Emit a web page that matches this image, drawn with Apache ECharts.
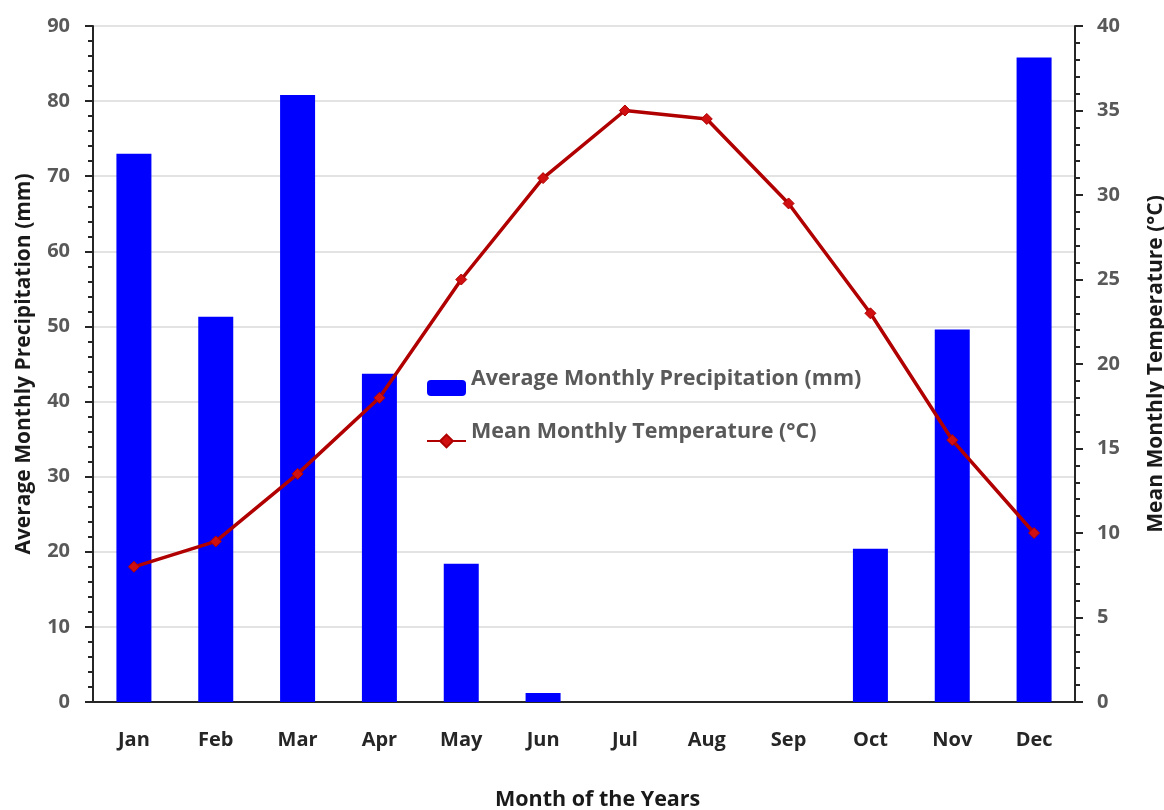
<!DOCTYPE html>
<html><head><meta charset="utf-8">
<script src="https://cdn.jsdelivr.net/npm/echarts@6/dist/echarts.min.js"></script>
<style>html,body{margin:0;padding:0;background:#fff}#c{width:1164px;height:810px}</style>
</head><body><div id="c"></div>
<script>
const months = ['Jan','Feb','Mar','Apr','May','Jun','Jul','Aug','Sep','Oct','Nov','Dec'];
const precipitation = [73, 51.3, 80.8, 43.7, 18.4, 1.2, 0, 0, 0, 20.4, 49.6, 85.8];
const temperature = [8, 9.5, 13.5, 18, 25, 31, 35, 34.5, 29.5, 23, 15.5, 10];
const precipName = 'Average Monthly Precipitation (mm)';
const tempName = 'Mean Monthly Temperature (°C)';
const xTitle = 'Month of the Years';

const FONT = 'Open Sans';
const chart = echarts.init(document.getElementById('c'));
chart.setOption({
  backgroundColor: '#fff',
  animation: false,
  textStyle: { fontFamily: FONT },
  grid: { left: 93, right: 89, top: 26, bottom: 108, containLabel: false, outerBoundsMode: 'none' },
  legend: {
    orient: 'vertical', left: 426, top: 368, itemGap: 25, padding: 0,
    itemWidth: 39, itemHeight: 16,
    formatter: '{a|{name}}',
    textStyle: {
      rich: { a: { fontFamily: FONT, fontSize: 21.5, fontWeight: 'bold', color: '#595959', padding: [0, 0, 18, 0] } }
    },
    data: [precipName, tempName]
  },
  xAxis: {
    type: 'category', data: months,
    axisLine: { lineStyle: { color: '#262626', width: 2 } },
    axisTick: { alignWithLabel: true, length: 6, lineStyle: { color: '#262626', width: 2 } },
    axisLabel: { fontFamily: FONT, fontSize: 20, fontWeight: 'bold', color: '#262626', margin: 28 }
  },
  yAxis: [{
    type: 'value', min: 0, max: 90, interval: 10, position: 'left',
    name: precipName, nameLocation: 'middle', nameGap: 58, nameRotate: 90,
    nameTextStyle: { fontFamily: FONT, fontSize: 21, fontWeight: 'bold', color: '#1a1a1a' },
    axisLine: { show: true, lineStyle: { color: '#262626', width: 2 } },
    axisTick: { show: true, length: 8, lineStyle: { color: '#262626', width: 2 } },
    minorTick: { show: true, splitNumber: 5, length: 5, lineStyle: { color: '#262626', width: 2 } },
    axisLabel: { fontFamily: FONT, fontSize: 20, fontWeight: 'bold', color: '#595959', margin: 23 },
    splitLine: { show: true, lineStyle: { color: '#e3e3e3', width: 2 } }
  }, {
    type: 'value', min: 0, max: 40, interval: 5, position: 'right',
    name: tempName, nameLocation: 'middle', nameGap: 71, nameRotate: 90,
    nameTextStyle: { fontFamily: FONT, fontSize: 21, fontWeight: 'bold', color: '#1a1a1a' },
    axisLine: { show: true, lineStyle: { color: '#262626', width: 2 } },
    axisTick: { show: true, length: 8, lineStyle: { color: '#262626', width: 2 } },
    minorTick: { show: true, splitNumber: 5, length: 5, lineStyle: { color: '#262626', width: 2 } },
    axisLabel: { fontFamily: FONT, fontSize: 20, fontWeight: 'bold', color: '#595959', margin: 22 },
    splitLine: { show: false }
  }],
  series: [{
    name: precipName, type: 'bar', yAxisIndex: 0, data: precipitation,
    barWidth: 35, itemStyle: { color: '#0000ff' }
  }, {
    name: tempName, type: 'line', yAxisIndex: 1, data: temperature,
    symbol: 'diamond', symbolSize: 11,
    lineStyle: { color: '#b00000', width: 3.5 },
    itemStyle: { color: '#d01010', borderColor: '#b00000', borderWidth: 1 }
  }],
  graphic: [{
    type: 'text', left: 495, top: 789,
    style: { text: xTitle, font: 'bold 21.5px "Open Sans"', fill: '#1a1a1a' }
  }]
});
</script></body></html>
